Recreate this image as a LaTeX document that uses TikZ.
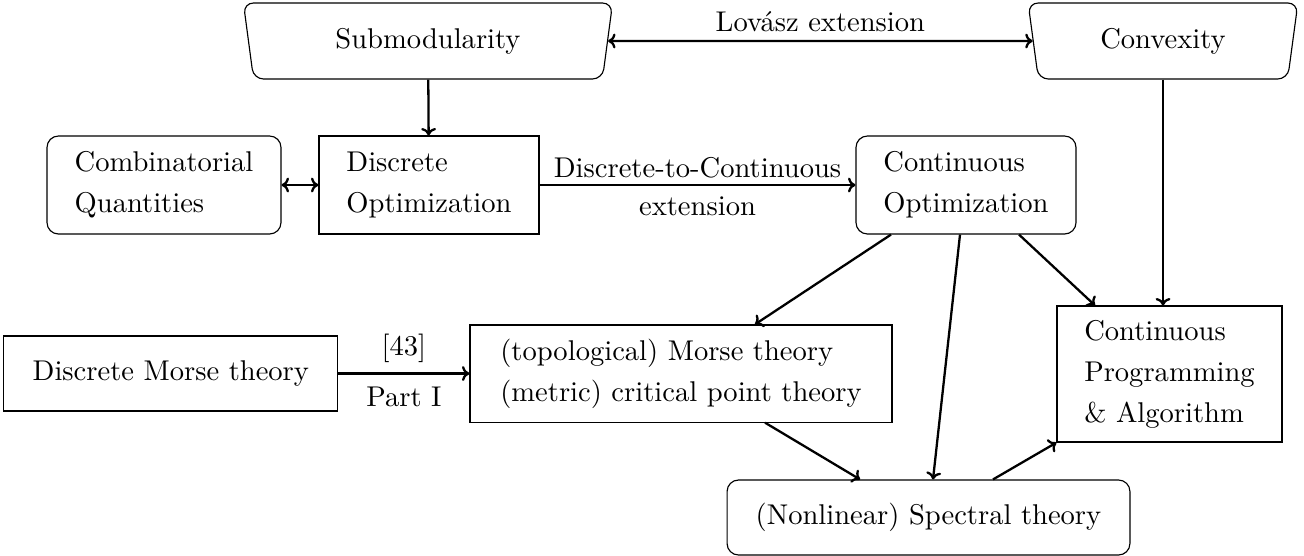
\documentclass[tikz,border=0pt]{standalone}
\usetikzlibrary{
	positioning,
	calc,
	arrows.meta,
	shapes.geometric
}
\begin{document}
\begin{tikzpicture}[x=0.35pt, y=-0.35pt,
			framed/.style={rectangle, draw=black, align=left, inner sep=2pt, font=\linespread{1.2}\selectfont},
			soft/.style={framed, rounded corners=4pt},
			topic/.style={trapezium, draw=black, trapezium stretches=true, shape border rotate=180,
				trapezium left angle=82.5, trapezium right angle=82.5, rounded corners=3.5pt, minimum height=26.6pt},
			plain/.style={inner sep=2pt},
			arrow/.style={thick,-{To[length=2.6pt, width=5.2pt]}},
			dblarrow/.style={thick,{To[length=2.6pt, width=5.2pt]}-{To[length=2.6pt, width=5.2pt]}}]

			\useasboundingbox (0,0) rectangle (1304,555);

			\node[topic, minimum width=129.5pt] (submod) at (428,41) {Submodularity};
			\node[topic, minimum width=94.9pt] (convex) at (1163,41) {Convexity};

			\node[soft, minimum width=81.9pt, minimum height=34.3pt] (combQ) at (164,185) {Combinatorial\\Quantities};
			\node[framed, minimum width=77pt, minimum height=34.3pt] (discOpt) at (429,185) {Discrete\\Optimization};
			\node[soft, minimum width=77pt, minimum height=34.3pt] (contOpt) at (966,185) {Continuous\\Optimization};

			\node[framed, minimum width=147.7pt, minimum height=34pt] (morse) at (681,373.5) {(topological) Morse theory\\(metric) critical point theory};
			\node[framed, minimum width=116.9pt, minimum height=26.25pt, left=45.85pt of morse] (discMorse) {Discrete Morse theory};

			\node[framed, minimum width=78.75pt, minimum height=47.6pt] (contProg) at (1169.5,374) {Continuous\\Programming\\\& Algorithm};
			\node[soft, minimum width=141pt, minimum height=26.25pt] (spectral) at (928.5,517.5) {(Nonlinear) Spectral theory};

			\draw[dblarrow] (submod) -- node[plain, above=0.7pt] {Lov\'asz extension} (convex);
			\draw[arrow] (submod) -- (discOpt);
			\draw[dblarrow] (combQ) -- (discOpt);
			\draw[arrow] (discOpt) -- node[plain, above] {Discrete-to-Continuous} node[plain, below=1.75pt] {extension} (contOpt);
			\draw[arrow] (convex.south) -- (convex.south |- contProg.north);

			\draw[arrow] ($(contOpt.south)+(-75,0)$) -- ($(morse.north)+(74,0)$);
			\draw[arrow] ($(contOpt.south)+(-6,0)$) -- ($(spectral.north)+(4.5,0)$);
			\draw[arrow] ($(contOpt.south)+(53,0)$) -- ($(contProg.north)+(-74.5,0)$);
			\draw[arrow] ($(morse.south)+(84,0)$) -- ($(spectral.north)+(-68.5,0)$);
			\draw[arrow] ($(spectral.north)+(64.5,0)$) -- (contProg.south west);

			\draw[arrow] (discMorse) -- node[plain, above=1.4pt] {[43]} node[plain, below=2.4pt] {Part I} (morse);
		\end{tikzpicture}
\end{document}
